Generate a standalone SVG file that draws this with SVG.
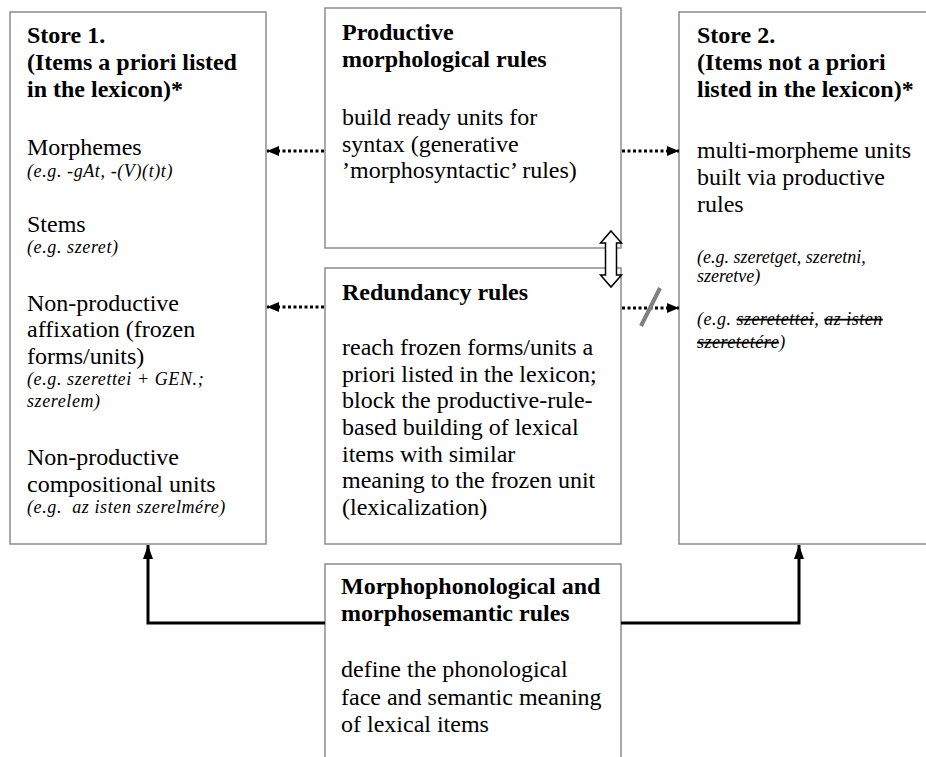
<svg xmlns="http://www.w3.org/2000/svg" width="926" height="757" viewBox="0 0 926 757">
<style>
.box{fill:#fff;stroke:#8c8c8c;stroke-width:1.5}
text{font-family:"Liberation Serif","Times New Roman",serif;fill:#000}
.b{font-size:24px;font-weight:bold}
.r{font-size:24px}
.i{font-size:18px;font-style:italic;white-space:pre}
.ls{letter-spacing:0.6px}
.ls2{letter-spacing:0.5px}
.dot{fill:none;stroke:#000;stroke-width:3;stroke-dasharray:3 2.5}
.solid{fill:none;stroke:#000;stroke-width:3}
.strike{text-decoration:line-through}
</style>
<defs>
<marker id="ah" markerUnits="userSpaceOnUse" viewBox="0 0 12 10" refX="12" refY="5" markerWidth="12" markerHeight="10" orient="auto">
<path d="M0,0 L12,5 L0,10 Z" fill="#000"/>
</marker>
<marker id="ah2" markerUnits="userSpaceOnUse" viewBox="0 0 14 10" refX="14" refY="5" markerWidth="14" markerHeight="10" orient="auto">
<path d="M0,0 L14,5 L0,10 Z" fill="#000"/>
</marker>
</defs>

<g id="store1">
<rect class="box" x="10" y="12" width="256" height="532"/>
<text class="b" x="27" y="43">Store 1.</text>
<text class="b" x="27" y="70">(Items a priori listed</text>
<text class="b" x="27" y="97">in the lexicon)*</text>
<text class="r" x="27" y="155">Morphemes</text>
<text class="i ls" x="27" y="177">(e.g. -gAt, -(V)(t)t)</text>
<text class="r" x="27" y="232">Stems</text>
<text class="i ls" x="27" y="253">(e.g. szeret)</text>
<text class="r" x="27" y="311">Non-productive</text>
<text class="r" x="27" y="337">affixation (frozen</text>
<text class="r" x="27" y="364">forms/units)</text>
<text class="i ls" x="27" y="385">(e.g. szerettei + GEN.;</text>
<text class="i ls" x="27" y="407">szerelem)</text>
<text class="r" x="27" y="465">Non-productive</text>
<text class="r" x="27" y="492">compositional units</text>
<text class="i ls" x="27" y="513">(e.g.  az isten szerelmére)</text>
</g>

<g id="productive">
<rect class="box" x="325" y="8" width="296" height="240"/>
<text class="b" x="342" y="40">Productive</text>
<text class="b" x="342" y="67">morphological rules</text>
<text class="r" x="342" y="125">build ready units for</text>
<text class="r" x="342" y="152">syntax (generative</text>
<text class="r" x="342" y="178">’morphosyntactic’ rules)</text>
</g>

<g id="redundancy">
<rect class="box" x="325" y="268" width="296" height="276"/>
<text class="b" x="342" y="300">Redundancy rules</text>
<text class="r" x="342" y="355">reach frozen forms/units a</text>
<text class="r" x="342" y="382">priori listed in the lexicon;</text>
<text class="r" x="342" y="408">block the productive-rule-</text>
<text class="r" x="342" y="435">based building of lexical</text>
<text class="r" x="342" y="462">items with similar</text>
<text class="r" x="342" y="488">meaning to the frozen unit</text>
<text class="r" x="342" y="515">(lexicalization)</text>
</g>

<g id="store2">
<rect class="box" x="679" y="12" width="260" height="532"/>
<text class="b" x="697" y="43">Store 2.</text>
<text class="b" x="697" y="70">(Items not a priori</text>
<text class="b" x="697" y="97">listed in the lexicon)*</text>
<text class="r" x="697" y="158">multi-morpheme units</text>
<text class="r" x="697" y="185">built via productive</text>
<text class="r" x="697" y="212">rules</text>
<text class="i" x="697" y="263">(e.g. szeretget, szeretni,</text>
<text class="i" x="697" y="282">szeretve)</text>
<text class="i ls2" x="697" y="325">(e.g. <tspan class="strike">szeretettei</tspan>, <tspan class="strike">az isten</tspan></text>
<text class="i ls2" x="697" y="348"><tspan class="strike">szeretetére</tspan>)</text>
</g>

<g id="morphophon">
<rect class="box" x="325" y="564" width="296" height="220"/>
<text class="b" x="341" y="594">Morphophonological and</text>
<text class="b" x="341" y="621">morphosemantic rules</text>
<text class="r" x="341" y="677">define the phonological</text>
<text class="r" x="341" y="705">face and semantic meaning</text>
<text class="r" x="341" y="732">of lexical items</text>
</g>

<g id="connectors">
<line class="dot" x1="324" y1="151" x2="267" y2="151" marker-end="url(#ah)"/>
<line class="dot" x1="622" y1="151" x2="679" y2="151" marker-end="url(#ah)"/>
<line class="dot" x1="324" y1="307" x2="267" y2="307" marker-end="url(#ah)"/>
<line class="dot" x1="622" y1="308" x2="679" y2="308" marker-end="url(#ah)"/>
<line x1="641" y1="326" x2="660" y2="288" stroke="#808080" stroke-width="4"/>
<polyline class="solid" points="325,623 148,623 148,545" marker-end="url(#ah2)"/>
<polyline class="solid" points="621,623 799,623 799,545" marker-end="url(#ah2)"/>
<path d="M611,231 L621.5,243 L616.5,243 L616.5,275 L621.5,275 L611,287 L600.5,275 L605.5,275 L605.5,243 L600.5,243 Z" fill="#fff" stroke="#000" stroke-width="1.5"/>
</g>
</svg>
